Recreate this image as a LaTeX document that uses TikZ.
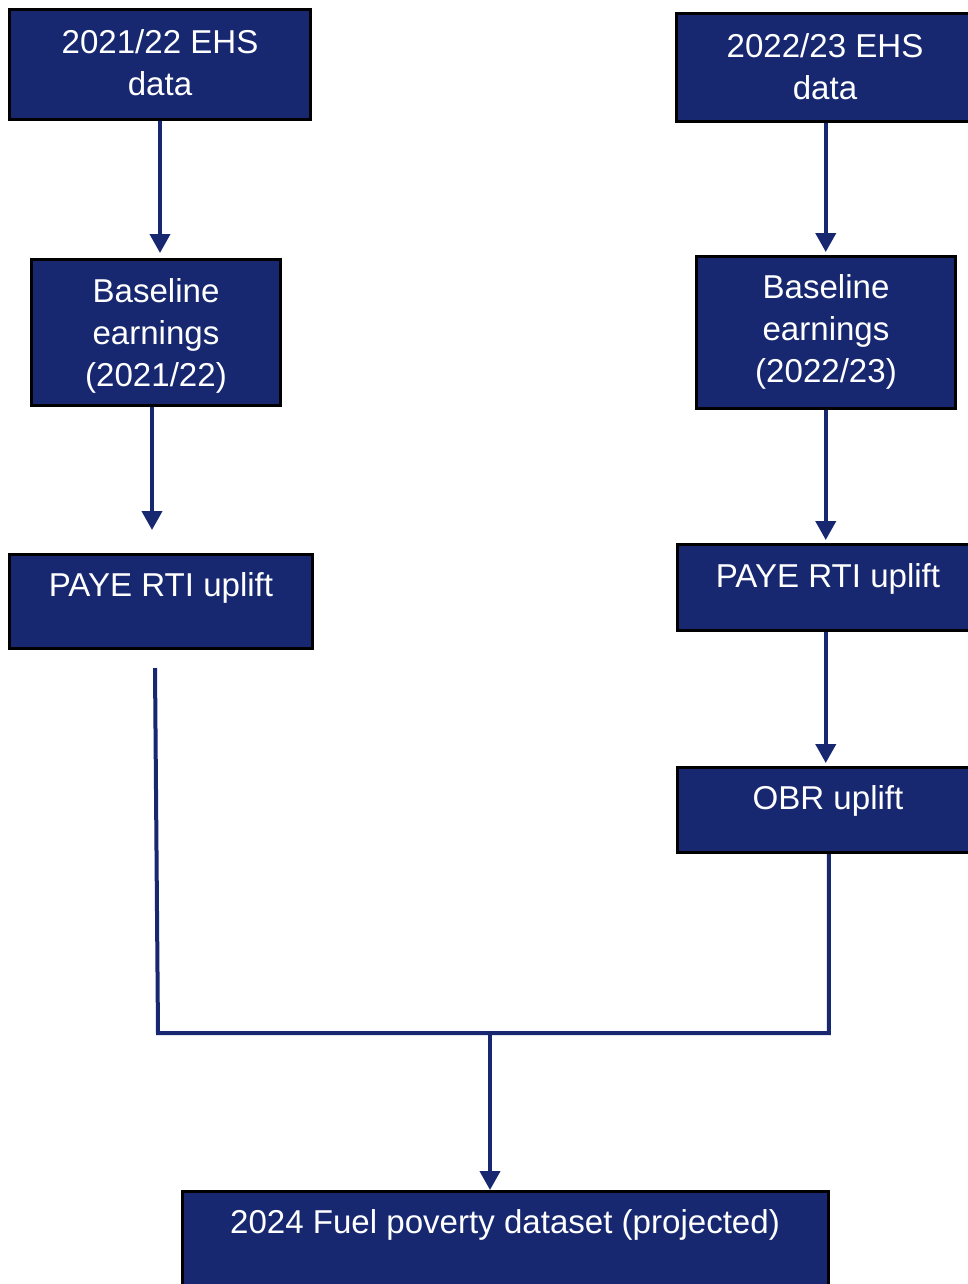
\documentclass[tikz,border=0pt]{standalone}
\usepackage{fontspec}
\setmainfont{Liberation Sans}
\usetikzlibrary{arrows.meta,calc,fit}
\definecolor{navy}{HTML}{172870}
\begin{document}
\begin{tikzpicture}[x=1bp,y=-1bp,
  box/.style={draw=black, line width=3bp, fill=navy, inner sep=0pt},
  boxtext/.style={text=white, align=center, inner sep=0pt,
    font=\fontsize{33.2}{42.5}\selectfont},
  conn/.style={draw=navy, line width=4bp},
  arrow/.style={conn, -{Triangle[width=20bp,length=19bp]}}]
\useasboundingbox (0,0) rectangle (968,1284);

% left column
\node[box, fit={(9.5,9.5) (310.5,119.5)}] (ehsA) {};
\node[boxtext] (ehsAt) at (160,63) {2021/22 EHS\\data};
\node[box, fit={(31.5,259.5) (280.5,405.5)}] (baseA) {};
\node[boxtext] (baseAt) at (156,336) {Baseline\\earnings\\(2021/22)};
\node[box, fit={(9.5,554.5) (312.5,648.5)}] (payeA) {};
\node[boxtext] (payeAt) at (161,588) {PAYE RTI uplift};

% right column
\node[box, fit={(676.5,13.5) (975,121.5)}] (ehsB) {};
\node[boxtext] (ehsBt) at (825,67) {2022/23 EHS\\data};
\node[box, fit={(696.5,256.5) (955.5,408.5)}] (baseB) {};
\node[boxtext] (baseBt) at (826,332) {Baseline\\earnings\\(2022/23)};
\node[box, fit={(677.5,544.5) (980,630.5)}] (payeB) {};
\node[boxtext] (payeBt) at (828,579) {PAYE RTI uplift};
\node[box, fit={(677.5,767.5) (980,852.5)}] (obr) {};
\node[boxtext] (obrt) at (828,801) {OBR uplift};

% result
\node[box, fit={(182.5,1191.5) (828.5,1300)}] (final) {};
\node[boxtext] (finalt) at (505,1225) {2024 Fuel poverty dataset (projected)};

% connectors
\draw[arrow, shorten >=5bp] (ehsA.south) -- (ehsA.south |- baseA.north);
\draw[arrow, shorten >=23bp] ($(baseA.south)+(-4,0)$) -- ($(baseA.south |- payeA.north)+(-4,0)$);
\draw[arrow, shorten >=3bp] (ehsB.south) -- (ehsB.south |- baseB.north);
\draw[arrow, shorten >=3bp] (baseB.south -| ehsB.south) -- (ehsB.south |- payeB.north);
\draw[arrow, shorten >=3bp] (payeB.south -| ehsB.south) -- (ehsB.south |- obr.north);

\coordinate (lstart) at (155,668);
\coordinate (jl) at (158,1033);
\coordinate (jm) at (490,1033);
\draw[conn] (lstart) -- (jl) -- (jl -| obr.south) -- (obr.south);
\draw[arrow] (jm) -- (jm |- final.north);
\end{tikzpicture}
\end{document}
